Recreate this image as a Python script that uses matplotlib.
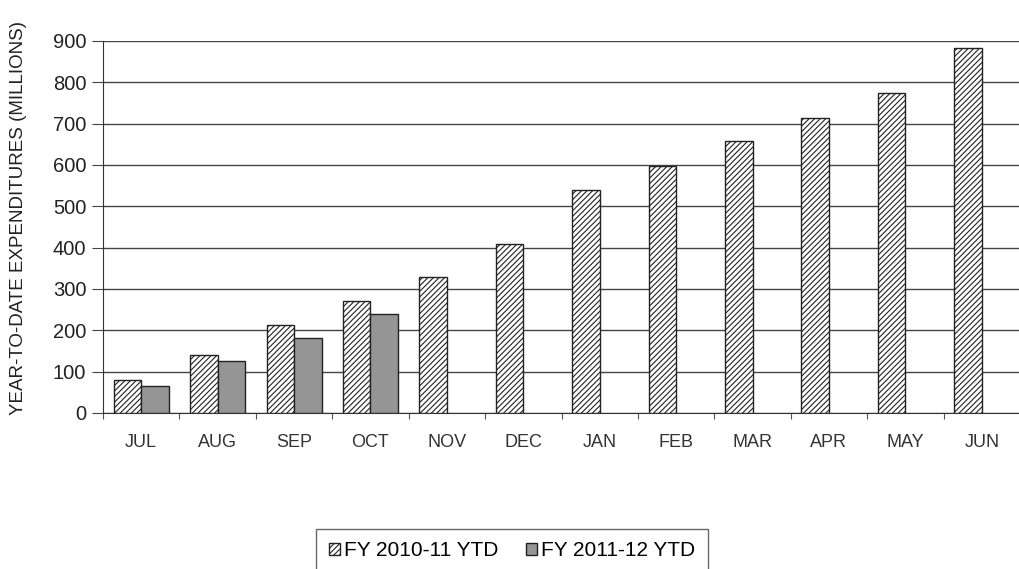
# year-to-date expenditures, FY 2010-11 vs FY 2011-12

import numpy as np
import matplotlib.pyplot as plt

plt.rcParams['font.family'] = ['Liberation Sans', 'DejaVu Sans']
plt.rcParams['hatch.color'] = '#444444'
plt.rcParams['hatch.linewidth'] = 0.8

months = ['JUL', 'AUG', 'SEP', 'OCT', 'NOV', 'DEC', 'JAN', 'FEB', 'MAR', 'APR', 'MAY', 'JUN']
fy_2010_11 = [80, 141, 214, 270, 329, 409, 540, 598, 658, 714, 773, 883]
fy_2011_12 = [65, 126, 182, 239]
yticks = [0, 100, 200, 300, 400, 500, 600, 700, 800, 900]

fig = plt.figure(figsize=(10.2, 5.69), dpi=100)
ax = fig.add_axes([103 / 1020, 1 - 413 / 569, 1 - 103 / 1020, (413 - 41) / 569])

x = np.arange(len(months))
w = 0.36
ax.bar(x - w / 2, fy_2010_11, w, color='white', edgecolor='#222222', hatch='//////',
       linewidth=1.0, label='FY 2010-11 YTD', zorder=3)
ax.bar(x[:len(fy_2011_12)] + w / 2, fy_2011_12, w, color='#959595', edgecolor='#222222',
       linewidth=1.0, label='FY 2011-12 YTD', zorder=3)

ax.set_ylim(0, 900)
ax.set_xlim(-0.5, (1020 - 103) / 77.5 - 0.5)
ax.set_yticks(yticks)
ax.yaxis.grid(True, color='#444444', linewidth=1.0, zorder=0)

# ticks at category boundaries, labels at centres
ax.set_xticks(np.arange(len(months) + 1) - 0.5)
ax.set_xticklabels([])
ax.set_xticks(x, minor=True)
ax.set_xticklabels(months, minor=True, fontsize=13, color='#333333')
ax.tick_params(axis='x', which='major', direction='out', length=4, color='#555555')
ax.tick_params(axis='x', which='minor', length=0, pad=15)
ax.tick_params(axis='y', length=8, color='#444444', labelsize=14.5, labelcolor='#222222', pad=4)

for s in ['top', 'right']:
    ax.spines[s].set_visible(False)
ax.spines['left'].set_color('#333333')
ax.spines['bottom'].set_color('#333333')

fig.text(18.5 / 1020, 1 - 415 / 569, 'YEAR-TO-DATE EXPENDITURES (MILLIONS)', rotation=90,
         ha='center', va='bottom', fontsize=13.5, color='#222222')

leg = fig.legend(loc='center', bbox_to_anchor=(512 / 1020, 1 - 551 / 569), ncol=2,
                 fontsize=15, frameon=True, fancybox=False, edgecolor='#444444',
                 handlelength=0.55, handleheight=0.55, handletextpad=0.2, columnspacing=1.3,
                 borderpad=0.6)
leg.get_frame().set_linewidth(1.0)

fig.savefig('out.png', dpi=100)
